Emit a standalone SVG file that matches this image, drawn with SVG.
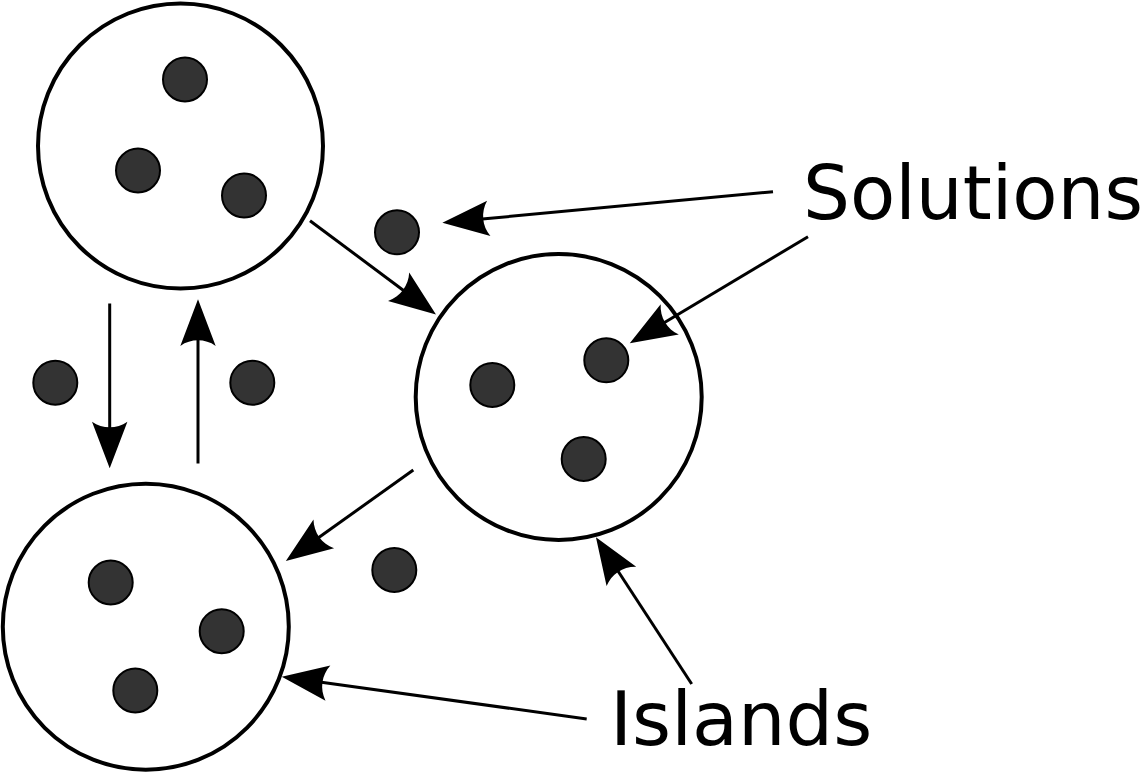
<svg xmlns="http://www.w3.org/2000/svg" width="1143" height="772" viewBox="0 0 1143 772">
  <style>
    .island { fill: #ffffff; stroke: #000000; stroke-width: 4; }
    .sol { fill: #333333; stroke: #000000; stroke-width: 2; }
    .conn { fill: none; stroke: #000000; stroke-width: 3; marker-end: url(#arrow); }
    .label { font-family: "DejaVu Sans", "Liberation Sans", sans-serif; font-size: 74px; fill: #000000; }
  </style>
  <defs>
    <marker id="arrow" markerUnits="userSpaceOnUse" orient="auto" overflow="visible" markerWidth="60" markerHeight="40" refX="0" refY="0">
      <path d="M40,0 L-6.6,-17.7 C0.8,-7 0.8,7 -6.6,17.7 Z" fill="#000000"/>
    </marker>
  </defs>
  <rect width="1143" height="772" fill="#ffffff"/>

  <g id="island-top">
    <circle class="island" cx="180.5" cy="146" r="142.5"/>
    <circle class="sol" cx="185" cy="79.5" r="22"/>
    <circle class="sol" cx="138" cy="170.5" r="22"/>
    <circle class="sol" cx="244" cy="195.5" r="22"/>
  </g>
  <g id="island-right">
    <circle class="island" cx="558.7" cy="397" r="143"/>
    <circle class="sol" cx="492.3" cy="385" r="22"/>
    <circle class="sol" cx="606.3" cy="360.3" r="22"/>
    <circle class="sol" cx="583.7" cy="459" r="22"/>
  </g>
  <g id="island-bottom">
    <circle class="island" cx="145.8" cy="626.7" r="143"/>
    <circle class="sol" cx="110.7" cy="582.5" r="22"/>
    <circle class="sol" cx="221.7" cy="631.2" r="22"/>
    <circle class="sol" cx="135.3" cy="690.5" r="22"/>
  </g>
  <g id="free-solutions">
    <circle class="sol" cx="397" cy="232.3" r="22"/>
    <circle class="sol" cx="55.3" cy="382.7" r="22"/>
    <circle class="sol" cx="252.3" cy="382.7" r="22"/>
    <circle class="sol" cx="394.3" cy="570" r="22"/>
  </g>

  <g id="connectors">
    <line class="conn" x1="109.7" y1="303.5" x2="109.7" y2="428.3"/>
    <line class="conn" x1="198" y1="463.5" x2="198" y2="339.3"/>
    <line class="conn" x1="310" y1="220.7" x2="403.9" y2="290.7"/>
    <line class="conn" x1="773" y1="191.7" x2="482.2" y2="219"/>
    <line class="conn" x1="808" y1="236.7" x2="664.1" y2="322.8"/>
    <line class="conn" x1="413.3" y1="470" x2="318.4" y2="537.8"/>
    <line class="conn" x1="586.7" y1="719" x2="321.4" y2="682.2"/>
    <line class="conn" x1="691.7" y1="684" x2="617.8" y2="570.8"/>
  </g>

  <g id="labels">
    <text class="label" x="803" y="218.5">Solutions</text>
    <text class="label" x="610" y="744.5" style="font-size:75px">Islands</text>
  </g>
</svg>
